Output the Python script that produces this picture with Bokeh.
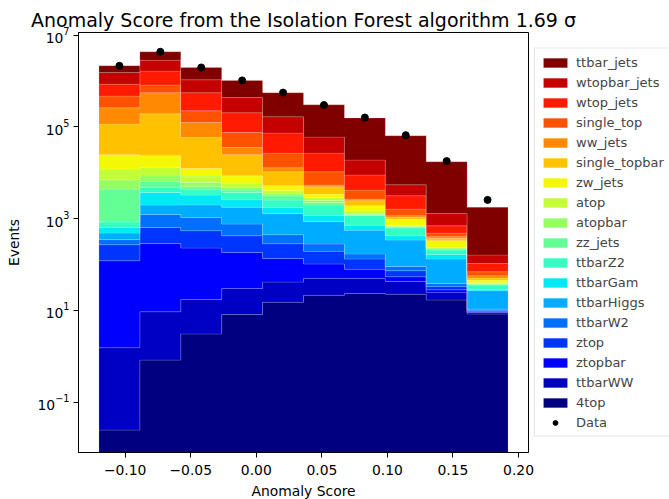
import math
from bokeh.plotting import figure
from bokeh.models import Range1d, FixedTicker, Legend, LegendItem
from bokeh.embed import file_html
from bokeh.resources import INLINE

# ---------------- data ----------------
bin_edges = [-0.12, -0.0888, -0.0576, -0.0264, 0.0048, 0.0360, 0.0672, 0.0984, 0.1296, 0.1608, 0.1920]

# events per bin for each sample (stack order: bottom first)
four_top      = [0.0248, 0.83, 3.09, 8.18, 15.2, 21.4, 23.4, 22.7, 16.9, 8.36]
ttbarWW       = [1.52, 8.57, 14.2, 21.9, 26.4, 28.7, 26.6, 20.2, 7.6, 0.64]
ztopbar       = [119.5, 278.6, 211.7, 153.9, 94.4, 52.9, 29.0, 11.3, 3.7, 0.44]
ztop          = [149, 355, 316, 240, 148, 92, 53, 19.1, 4.9, 0.46]
ttbarW2       = [82, 587, 517, 338, 163, 85, 38, 17.7, 5.8, 0.8]
ttbarHiggs    = [133, 747, 933, 1016, 856, 591, 392, 251, 93.1, 16.2]
ttbarGam      = [158, 1747, 1271, 804, 455, 304, 162, 82, 34, 1.9]
ttbarZ2       = [212, 1062, 1000, 1142, 783, 820, 451, 207, 43, 6.9]
zz_jets       = [3561, 1671, 689, 474, 621, 244, 55, 30, 10, 1.5]
atopbar       = [2631, 2456, 1197, 588, 386, 273, 88, 23, 10, 1.3]
atop          = [5003, 4117, 2320, 1184, 516, 372, 161, 24, 11, 1.7]
zw_jets       = [12610, 10410, 3948, 2640, 1148, 552, 426, 269, 91, 5.7]
single_topbar = [90440, 169360, 46330, 16050, 5308, 1519, 550, 85, 41, 4.9]
ww_jets       = [145500, 360600, 65950, 10900, 2360, 440, 218, 94, 32, 6.2]
single_top    = [208200, 261300, 99700, 39950, 13970, 5125, 1525, 462, 81, 12.7]
wtop_jets     = [386200, 829300, 329000, 127300, 46430, 16330, 4715, 1537, 215, 36]
wtopbar_jets  = [676000, 1207000, 508600, 234700, 93020, 33130, 10007, 2328, 600, 55.3]
ttbar_jets    = [612000, 1474000, 906000, 588500, 388300, 242000, 136700, 58520, 16080, 1617]

data_counts = [2.14e6, 4.33e6, 1.97e6, 1.03e6, 5.6e5, 3.0e5, 1.6e5, 6.6e4, 1.8e4, 2570]

sample_names = ["4top", "ttbarWW", "ztopbar", "ztop", "ttbarW2", "ttbarHiggs", "ttbarGam",
                "ttbarZ2", "zz_jets", "atopbar", "atop", "zw_jets", "single_topbar",
                "ww_jets", "single_top", "wtop_jets", "wtopbar_jets", "ttbar_jets"]
sample_values = [four_top, ttbarWW, ztopbar, ztop, ttbarW2, ttbarHiggs, ttbarGam,
                 ttbarZ2, zz_jets, atopbar, atop, zw_jets, single_topbar,
                 ww_jets, single_top, wtop_jets, wtopbar_jets, ttbar_jets]

x_ticks = [-0.10, -0.05, 0.0, 0.05, 0.10, 0.15, 0.20]
x_tick_labels = ["\u22120.10", "\u22120.05", "0.00", "0.05", "0.10", "0.15", "0.20"]
y_ticks = [1e-1, 1e1, 1e3, 1e5, 1e7]

# ---------------- style ----------------
jet_colors = ["#000080", "#0000c4", "#0000ff", "#0034ff", "#0070ff", "#00acff", "#02e8f4",
              "#33ffc4", "#63ff94", "#94ff63", "#c4ff33", "#f4f802", "#ffc100", "#ff8900",
              "#ff5200", "#ff1a00", "#c40000", "#800000"]
FONT = "DejaVu Sans"
floor = 1e-3

p = figure(frame_width=450, frame_height=420, y_axis_type="log",
           x_range=Range1d(-0.1356, 0.2076), y_range=Range1d(0.00805, 1.14e7),
           output_backend="svg", toolbar_location=None,
           min_border_left=78, min_border_right=0, min_border_top=32, min_border_bottom=47,
           title="Anomaly Score from the Isolation Forest algorithm 1.69 \u03c3")

p.title.text_font = FONT
p.title.text_font_size = "19px"
p.title.text_font_style = "normal"
p.title.align = "center"
p.title.text_color = "black"
p.title.standoff = 4

# stacked step polygons
renderers = []
nb = len(bin_edges) - 1
bottom = [floor] * nb
for name, vals, col in zip(sample_names, sample_values, jet_colors):
    top = [b + v if b > floor else v for b, v in zip(bottom, vals)]
    xs, ys = [], []
    for i in range(nb):
        xs += [bin_edges[i], bin_edges[i + 1]]
        ys += [top[i], top[i]]
    for i in reversed(range(nb)):
        xs += [bin_edges[i + 1], bin_edges[i]]
        ys += [bottom[i], bottom[i]]
    r = p.patch(xs, ys, fill_color=col, line_color="white", line_alpha=0.15, line_width=1)
    renderers.append((name, r))
    bottom = top

centers = [(bin_edges[i] + bin_edges[i + 1]) / 2 for i in range(nb)]
err_lo = [d - math.sqrt(d) for d in data_counts]
err_hi = [d + math.sqrt(d) for d in data_counts]
p.segment(centers, err_lo, centers, err_hi, line_color="black", line_width=1.5)
bar_r = p.scatter(centers, data_counts, marker="dash", angle=math.pi / 2, size=6,
                  line_color="black", line_width=2)
dot_r = p.scatter(centers, data_counts, marker="circle", size=7, fill_color="black",
                  line_color="black")

items = [LegendItem(label=n, renderers=[r]) for n, r in reversed(renderers)]
items.append(LegendItem(label="Data", renderers=[bar_r, dot_r]))
legend = Legend(items=items, location="left", label_text_font=FONT,
                label_text_font_size="13px", glyph_height=12, glyph_width=30,
                label_height=17, spacing=3, padding=5, margin=6, label_standoff=6,
                border_line_color="#cccccc", border_line_width=1,
                background_fill_color="white", background_fill_alpha=1)
p.add_layout(legend, "right")

# axes
p.grid.visible = False
p.outline_line_color = "black"
p.outline_line_width = 1

for ax in (p.xaxis[0], p.yaxis[0]):
    ax.axis_line_color = "black"
    ax.axis_line_width = 1
    ax.major_tick_line_color = "black"
    ax.major_tick_in = 0
    ax.major_tick_out = 5
    ax.minor_tick_line_color = None
    ax.major_label_text_font = FONT
    ax.major_label_text_font_size = "13.9px"
    ax.major_label_text_color = "black"
    ax.axis_label_text_font = FONT
    ax.axis_label_text_font_size = "13.9px"
    ax.axis_label_text_font_style = "normal"
    ax.axis_label_text_color = "black"

p.xaxis.ticker = FixedTicker(ticks=x_ticks)
p.xaxis.major_label_overrides = {t: l for t, l in zip(x_ticks, x_tick_labels)}
p.xaxis.axis_label = "Anomaly Score"
p.xaxis.major_label_standoff = 7
p.xaxis.axis_label_standoff = 5
p.yaxis.ticker = FixedTicker(ticks=y_ticks)
p.yaxis.axis_label = "Events"
p.yaxis.major_label_standoff = 4
p.yaxis.axis_label_standoff = 12

open("out.html", "w").write(file_html(p, INLINE))
